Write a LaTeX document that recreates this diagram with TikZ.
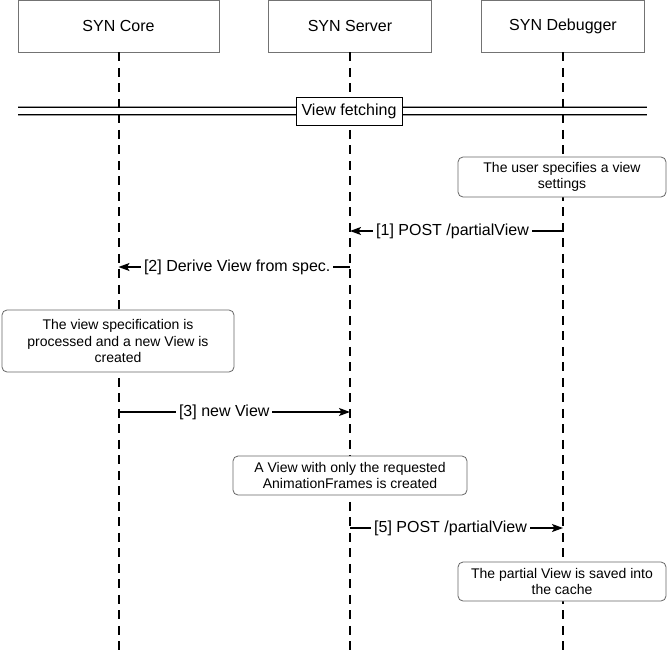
\documentclass[tikz,border=0pt]{standalone}
\usepackage{fontspec}
\setmainfont{Liberation Sans}
\usetikzlibrary{arrows.meta}
\begin{document}
\begin{tikzpicture}[x=1pt,y=-1pt,
  actorbox/.style={draw=black!55, fill=white, line width=0.9pt, minimum height=52pt, inner sep=0pt, font=\fontsize{16}{19}\selectfont},
  lifeline/.style={line width=2pt, dash pattern=on 9pt off 6.5pt},
  notebox/.style={draw=black!60, fill=white, line width=0.8pt, rounded corners=5pt, inner sep=0pt, align=center, font=\fontsize{14}{16.5}\selectfont},
  msg/.style={line width=1.3pt, -{Stealth[length=11pt,width=8pt,inset=2.5pt]}},
  msglabel/.style={fill=white, inner sep=3pt, font=\fontsize{16}{19}\selectfont},
  framebox/.style={draw=black, fill=white, line width=0.9pt, inner sep=0pt, minimum width=106pt, minimum height=28pt, font=\fontsize{16}{19}\selectfont},
  sepgray/.style={draw=black!40, line width=2.2pt},
  sepblack/.style={draw=black, line width=0.9pt}
]
\useasboundingbox (0,0) rectangle (667,656);

% separator double line
\coordinate (s1l) at (18,106.8);
\coordinate (s1r) at (647,106.8);
\coordinate (s2l) at (18,115.2);
\coordinate (s2r) at (647,115.2);
\draw[sepgray] (s1l) -- (s1r);
\draw[sepgray] (s2l) -- (s2r);
\draw[sepblack] ([yshift=-0.6pt]s1l) -- ([yshift=-0.6pt]s1r);
\draw[sepblack] ([yshift=0.6pt]s2l) -- ([yshift=0.6pt]s2r);

% actors
\node[actorbox, minimum width=201pt] (core) at (118.5,26) {SYN Core};
\node[actorbox, minimum width=163pt] (server) at (350,26) {SYN Server};
\node[actorbox, minimum width=162.5pt] (debug) at (563,26) {SYN Debugger};

% lifelines
\coordinate (bottom) at (0,656);
\draw[lifeline] (core.south) -- (core.south |- bottom);
\draw[lifeline] (server.south) -- (server.south |- bottom);
\draw[lifeline] (debug.south) -- (debug.south |- bottom);

% frame label
\node[framebox] (frame) at (349,111) {View fetching};

% notes
\node[notebox, minimum width=208pt, minimum height=40pt] (n1) at (562,177) {The user specifies a view\\settings};
\node[notebox, minimum width=232pt, minimum height=62pt] (n2) at (118,341) {The view specification is\\processed and a new View is\\created};
\node[notebox, minimum width=234pt, minimum height=39pt] (n3) at (350,475.5) {A View with only the requested\\AnimationFrames is created};
\node[notebox, minimum width=208pt, minimum height=39pt] (n4) at (562,581.5) {The partial View is saved into\\the cache};

% messages
\coordinate (m1) at (0,231);
\coordinate (m2) at (0,267);
\coordinate (m3) at (0,412);
\coordinate (m5) at (0,528);
\draw[msg] (debug.south |- m1) -- node[msglabel, xshift=-4pt] (l1) {[1] POST /partialView} (server.south |- m1);
\draw[msg] (server.south |- m2) -- node[msglabel, xshift=3pt] (l2) {[2] Derive View from spec.} (core.south |- m2);
\draw[msg] (core.south |- m3) -- node[msglabel, xshift=-10pt] (l3) {[3] new View} (server.south |- m3);
\draw[msg] (server.south |- m5) -- node[msglabel, xshift=-6pt] (l5) {[5] POST /partialView} (debug.south |- m5);
\end{tikzpicture}
\end{document}
